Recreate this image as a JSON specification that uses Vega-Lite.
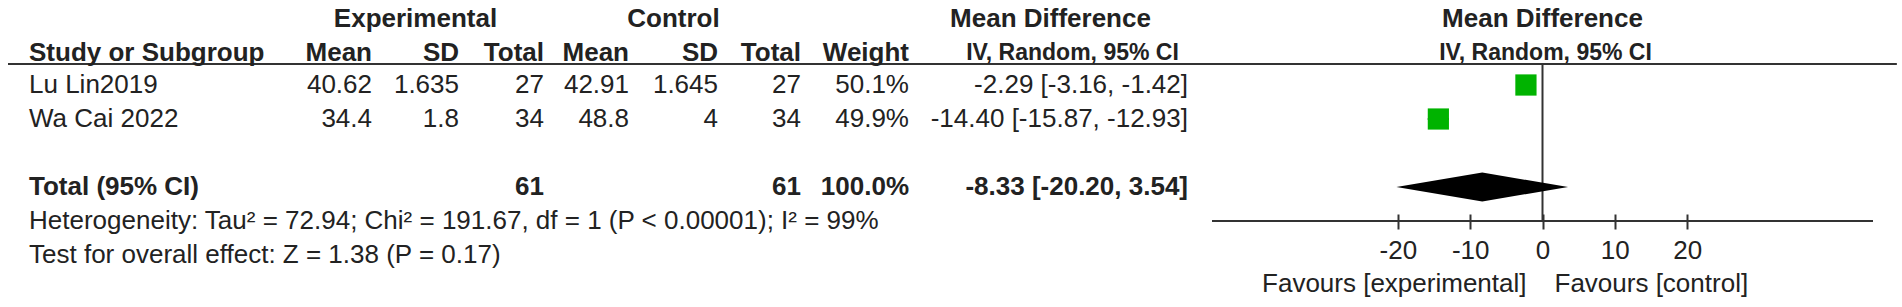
{
 "$schema": "https://vega.github.io/schema/vega-lite/v6.json",
 "padding": {"left": 7, "top": 0, "right": 0, "bottom": 0},
 "background": "white",
 "spacing": 0,
 "bounds": "flush",
 "datasets": {
  "headers": [
   {"row": "h1", "col": "e_sd", "text": "Experimental"},
   {"row": "h1", "col": "c_sd", "text": "Control"},
   {"row": "h1", "col": "ci", "text": "Mean Difference"},
   {"row": "h1", "col": "forest", "text": "Mean Difference"},
   {"row": "h2", "col": "study", "text": "Study or Subgroup"},
   {"row": "h2", "col": "e_mean", "text": "Mean"},
   {"row": "h2", "col": "e_sd", "text": "SD"},
   {"row": "h2", "col": "e_n", "text": "Total"},
   {"row": "h2", "col": "c_mean", "text": "Mean"},
   {"row": "h2", "col": "c_sd", "text": "SD"},
   {"row": "h2", "col": "c_n", "text": "Total"},
   {"row": "h2", "col": "weight", "text": "Weight"},
   {"row": "h2", "col": "ci", "text": "IV, Random, 95% CI"},
   {"row": "h2", "col": "forest", "text": "IV, Random, 95% CI"}
  ],
  "studies": [
   {"study": "Lu Lin2019", "e_mean": 40.62, "e_sd": 1.635, "e_n": 27, "c_mean": 42.91, "c_sd": 1.645, "c_n": 27, "weight": 50.1, "md": -2.29, "lo": -3.16, "hi": -1.42},
   {"study": "Wa Cai 2022", "e_mean": 34.4, "e_sd": 1.8, "e_n": 34, "c_mean": 48.8, "c_sd": 4, "c_n": 34, "weight": 49.9, "md": -14.40, "lo": -15.87, "hi": -12.93}
  ],
  "total": [
   {"label": "Total (95% CI)", "e_n": 61, "c_n": 61, "weight": 100.0, "md": -8.33, "lo": -20.20, "hi": 3.54}
  ],
  "notes": [
   {"row": "het", "text": "Heterogeneity: Tau² = 72.94; Chi² = 191.67, df = 1 (P < 0.00001); I² = 99%"},
   {"row": "test", "text": "Test for overall effect: Z = 1.38 (P = 0.17)"}
  ],
  "favours": [
   {"side": "experimental", "text": "Favours [experimental]"},
   {"side": "control", "text": "Favours [control]"}
  ]
 },
 "hconcat": [
  {
   "width": 273, "height": 272,
   "layer": [
    {"data": {"name": "headers"}, "transform": [{"filter": "datum.col == 'study' && datum.row == 'h2'"}],
     "mark": {"type": "rule", "stroke": "#333", "strokeWidth": 2},
     "encoding": {"y": {"datum": "h2", "bandPosition": 0.882, "type": "nominal", "scale": {"type": "band", "domain": ["h1","h2","Lu Lin2019","Wa Cai 2022","blank","Total (95% CI)","het","test"], "paddingInner": 0, "paddingOuter": 0}, "axis": null}}},
    {"data": {"name": "headers"}, "transform": [{"filter": "datum.col == 'study' && datum.row == 'h2'"}],
     "mark": {"type": "text", "align": "left", "fontWeight": "bold", "dx": 21, "dy": 2},
     "encoding": {"x": {"value": 0}, "y": {"field": "row", "type": "nominal", "axis": null}, "text": {"field": "text"}}},
    {"data": {"name": "studies"},
     "mark": {"type": "text", "align": "left", "dx": 21},
     "encoding": {"x": {"value": 0}, "y": {"field": "study", "type": "nominal", "axis": null}, "text": {"field": "study"}}},
    {"data": {"name": "total"},
     "mark": {"type": "text", "align": "left", "fontWeight": "bold", "dx": 21},
     "encoding": {"x": {"value": 0}, "y": {"field": "label", "type": "nominal", "axis": null}, "text": {"field": "label"}}},
    {"data": {"name": "notes"},
     "mark": {"type": "text", "align": "left", "dx": 21},
     "encoding": {"x": {"value": 0}, "y": {"field": "row", "type": "nominal", "axis": null}, "text": {"field": "text"}}}
   ]
  },
  {
   "width": 91, "height": 272,
   "layer": [
    {"data": {"name": "headers"}, "transform": [{"filter": "datum.col == 'e_mean' && datum.row == 'h2'"}],
     "mark": {"type": "rule", "stroke": "#333", "strokeWidth": 2},
     "encoding": {"y": {"datum": "h2", "bandPosition": 0.882, "type": "nominal", "scale": {"type": "band", "domain": ["h1","h2","Lu Lin2019","Wa Cai 2022","blank","Total (95% CI)","het","test"], "paddingInner": 0, "paddingOuter": 0}, "axis": null}}},
    {"data": {"name": "headers"}, "transform": [{"filter": "datum.col == 'e_mean' && datum.row == 'h2'"}],
     "mark": {"type": "text", "align": "right", "fontWeight": "bold", "dy": 2},
     "encoding": {"x": {"value": "width"}, "y": {"field": "row", "type": "nominal", "axis": null}, "text": {"field": "text"}}},
    {"data": {"name": "studies"},
     "mark": {"type": "text", "align": "right"},
     "encoding": {"x": {"value": "width"}, "y": {"field": "study", "type": "nominal", "axis": null}, "text": {"field": "e_mean", "type": "nominal"}}}
   ]
  },
  {
   "width": 87, "height": 272,
   "layer": [
    {"data": {"name": "headers"}, "transform": [{"filter": "datum.col == 'e_sd' && datum.row == 'h2'"}],
     "mark": {"type": "rule", "stroke": "#333", "strokeWidth": 2},
     "encoding": {"y": {"datum": "h2", "bandPosition": 0.882, "type": "nominal", "scale": {"type": "band", "domain": ["h1","h2","Lu Lin2019","Wa Cai 2022","blank","Total (95% CI)","het","test"], "paddingInner": 0, "paddingOuter": 0}, "axis": null}}},
    {"data": {"name": "headers"}, "transform": [{"filter": "datum.col == 'e_sd' && datum.row == 'h1'"}],
     "mark": {"type": "text", "align": "center", "fontWeight": "bold", "dy": 2},
     "encoding": {"y": {"field": "row", "type": "nominal", "axis": null}, "text": {"field": "text"}}},
    {"data": {"name": "headers"}, "transform": [{"filter": "datum.col == 'e_sd' && datum.row == 'h2'"}],
     "mark": {"type": "text", "align": "right", "fontWeight": "bold", "dy": 2},
     "encoding": {"x": {"value": "width"}, "y": {"field": "row", "type": "nominal", "axis": null}, "text": {"field": "text"}}},
    {"data": {"name": "studies"},
     "mark": {"type": "text", "align": "right"},
     "encoding": {"x": {"value": "width"}, "y": {"field": "study", "type": "nominal", "axis": null}, "text": {"field": "e_sd", "type": "nominal"}}}
   ]
  },
  {
   "width": 85, "height": 272,
   "layer": [
    {"data": {"name": "headers"}, "transform": [{"filter": "datum.col == 'e_n' && datum.row == 'h2'"}],
     "mark": {"type": "rule", "stroke": "#333", "strokeWidth": 2},
     "encoding": {"y": {"datum": "h2", "bandPosition": 0.882, "type": "nominal", "scale": {"type": "band", "domain": ["h1","h2","Lu Lin2019","Wa Cai 2022","blank","Total (95% CI)","het","test"], "paddingInner": 0, "paddingOuter": 0}, "axis": null}}},
    {"data": {"name": "headers"}, "transform": [{"filter": "datum.col == 'e_n' && datum.row == 'h2'"}],
     "mark": {"type": "text", "align": "right", "fontWeight": "bold", "dy": 2},
     "encoding": {"x": {"value": "width"}, "y": {"field": "row", "type": "nominal", "axis": null}, "text": {"field": "text"}}},
    {"data": {"name": "studies"},
     "mark": {"type": "text", "align": "right"},
     "encoding": {"x": {"value": "width"}, "y": {"field": "study", "type": "nominal", "axis": null}, "text": {"field": "e_n", "type": "nominal"}}},
    {"data": {"name": "total"},
     "mark": {"type": "text", "align": "right", "fontWeight": "bold"},
     "encoding": {"x": {"value": "width"}, "y": {"field": "label", "type": "nominal", "axis": null}, "text": {"field": "e_n", "type": "nominal"}}}
   ]
  },
  {
   "width": 85, "height": 272,
   "layer": [
    {"data": {"name": "headers"}, "transform": [{"filter": "datum.col == 'c_mean' && datum.row == 'h2'"}],
     "mark": {"type": "rule", "stroke": "#333", "strokeWidth": 2},
     "encoding": {"y": {"datum": "h2", "bandPosition": 0.882, "type": "nominal", "scale": {"type": "band", "domain": ["h1","h2","Lu Lin2019","Wa Cai 2022","blank","Total (95% CI)","het","test"], "paddingInner": 0, "paddingOuter": 0}, "axis": null}}},
    {"data": {"name": "headers"}, "transform": [{"filter": "datum.col == 'c_mean' && datum.row == 'h2'"}],
     "mark": {"type": "text", "align": "right", "fontWeight": "bold", "dy": 2},
     "encoding": {"x": {"value": "width"}, "y": {"field": "row", "type": "nominal", "axis": null}, "text": {"field": "text"}}},
    {"data": {"name": "studies"},
     "mark": {"type": "text", "align": "right"},
     "encoding": {"x": {"value": "width"}, "y": {"field": "study", "type": "nominal", "axis": null}, "text": {"field": "c_mean", "type": "nominal"}}}
   ]
  },
  {
   "width": 89, "height": 272,
   "layer": [
    {"data": {"name": "headers"}, "transform": [{"filter": "datum.col == 'c_sd' && datum.row == 'h2'"}],
     "mark": {"type": "rule", "stroke": "#333", "strokeWidth": 2},
     "encoding": {"y": {"datum": "h2", "bandPosition": 0.882, "type": "nominal", "scale": {"type": "band", "domain": ["h1","h2","Lu Lin2019","Wa Cai 2022","blank","Total (95% CI)","het","test"], "paddingInner": 0, "paddingOuter": 0}, "axis": null}}},
    {"data": {"name": "headers"}, "transform": [{"filter": "datum.col == 'c_sd' && datum.row == 'h1'"}],
     "mark": {"type": "text", "align": "center", "fontWeight": "bold", "dy": 2},
     "encoding": {"y": {"field": "row", "type": "nominal", "axis": null}, "text": {"field": "text"}}},
    {"data": {"name": "headers"}, "transform": [{"filter": "datum.col == 'c_sd' && datum.row == 'h2'"}],
     "mark": {"type": "text", "align": "right", "fontWeight": "bold", "dy": 2},
     "encoding": {"x": {"value": "width"}, "y": {"field": "row", "type": "nominal", "axis": null}, "text": {"field": "text"}}},
    {"data": {"name": "studies"},
     "mark": {"type": "text", "align": "right"},
     "encoding": {"x": {"value": "width"}, "y": {"field": "study", "type": "nominal", "axis": null}, "text": {"field": "c_sd", "type": "nominal"}}}
   ]
  },
  {
   "width": 83, "height": 272,
   "layer": [
    {"data": {"name": "headers"}, "transform": [{"filter": "datum.col == 'c_n' && datum.row == 'h2'"}],
     "mark": {"type": "rule", "stroke": "#333", "strokeWidth": 2},
     "encoding": {"y": {"datum": "h2", "bandPosition": 0.882, "type": "nominal", "scale": {"type": "band", "domain": ["h1","h2","Lu Lin2019","Wa Cai 2022","blank","Total (95% CI)","het","test"], "paddingInner": 0, "paddingOuter": 0}, "axis": null}}},
    {"data": {"name": "headers"}, "transform": [{"filter": "datum.col == 'c_n' && datum.row == 'h2'"}],
     "mark": {"type": "text", "align": "right", "fontWeight": "bold", "dy": 2},
     "encoding": {"x": {"value": "width"}, "y": {"field": "row", "type": "nominal", "axis": null}, "text": {"field": "text"}}},
    {"data": {"name": "studies"},
     "mark": {"type": "text", "align": "right"},
     "encoding": {"x": {"value": "width"}, "y": {"field": "study", "type": "nominal", "axis": null}, "text": {"field": "c_n", "type": "nominal"}}},
    {"data": {"name": "total"},
     "mark": {"type": "text", "align": "right", "fontWeight": "bold"},
     "encoding": {"x": {"value": "width"}, "y": {"field": "label", "type": "nominal", "axis": null}, "text": {"field": "c_n", "type": "nominal"}}}
   ]
  },
  {
   "width": 108, "height": 272,
   "layer": [
    {"data": {"name": "headers"}, "transform": [{"filter": "datum.col == 'weight' && datum.row == 'h2'"}],
     "mark": {"type": "rule", "stroke": "#333", "strokeWidth": 2},
     "encoding": {"y": {"datum": "h2", "bandPosition": 0.882, "type": "nominal", "scale": {"type": "band", "domain": ["h1","h2","Lu Lin2019","Wa Cai 2022","blank","Total (95% CI)","het","test"], "paddingInner": 0, "paddingOuter": 0}, "axis": null}}},
    {"data": {"name": "headers"}, "transform": [{"filter": "datum.col == 'weight' && datum.row == 'h2'"}],
     "mark": {"type": "text", "align": "right", "fontWeight": "bold", "dy": 2},
     "encoding": {"x": {"value": "width"}, "y": {"field": "row", "type": "nominal", "axis": null}, "text": {"field": "text"}}},
    {"data": {"name": "studies"},
     "transform": [{"calculate": "format(datum.weight, '.1f') + '%'", "as": "wl"}],
     "mark": {"type": "text", "align": "right"},
     "encoding": {"x": {"value": "width"}, "y": {"field": "study", "type": "nominal", "axis": null}, "text": {"field": "wl"}}},
    {"data": {"name": "total"},
     "transform": [{"calculate": "format(datum.weight, '.1f') + '%'", "as": "wl"}],
     "mark": {"type": "text", "align": "right", "fontWeight": "bold"},
     "encoding": {"x": {"value": "width"}, "y": {"field": "label", "type": "nominal", "axis": null}, "text": {"field": "wl"}}}
   ]
  },
  {
   "width": 303, "height": 272,
   "layer": [
    {"data": {"name": "headers"}, "transform": [{"filter": "datum.col == 'ci' && datum.row == 'h2'"}],
     "mark": {"type": "rule", "stroke": "#333", "strokeWidth": 2},
     "encoding": {"y": {"datum": "h2", "bandPosition": 0.882, "type": "nominal", "scale": {"type": "band", "domain": ["h1","h2","Lu Lin2019","Wa Cai 2022","blank","Total (95% CI)","het","test"], "paddingInner": 0, "paddingOuter": 0}, "axis": null}}},
    {"data": {"name": "headers"}, "transform": [{"filter": "datum.col == 'ci' && datum.row == 'h1'"}],
     "mark": {"type": "text", "align": "center", "fontWeight": "bold", "dx": -10, "dy": 2},
     "encoding": {"y": {"field": "row", "type": "nominal", "axis": null}, "text": {"field": "text"}}},
    {"data": {"name": "headers"}, "transform": [{"filter": "datum.col == 'ci' && datum.row == 'h2'"}],
     "mark": {"type": "text", "align": "center", "fontWeight": "bold", "fontSize": 23, "dx": 12, "dy": 2},
     "encoding": {"y": {"field": "row", "type": "nominal", "axis": null}, "text": {"field": "text"}}},
    {"data": {"name": "studies"},
     "transform": [{"calculate": "replace(format(datum.md, '.2f'), '−', '-') + ' [' + replace(format(datum.lo, '.2f'), '−', '-') + ', ' + replace(format(datum.hi, '.2f'), '−', '-') + ']'", "as": "cil"}],
     "mark": {"type": "text", "align": "right", "dx": -24},
     "encoding": {"x": {"value": "width"}, "y": {"field": "study", "type": "nominal", "axis": null}, "text": {"field": "cil"}}},
    {"data": {"name": "total"},
     "transform": [{"calculate": "replace(format(datum.md, '.2f'), '−', '-') + ' [' + replace(format(datum.lo, '.2f'), '−', '-') + ', ' + replace(format(datum.hi, '.2f'), '−', '-') + ']'", "as": "cil"}],
     "mark": {"type": "text", "align": "right", "fontWeight": "bold", "dx": -24},
     "encoding": {"x": {"value": "width"}, "y": {"field": "label", "type": "nominal", "axis": null}, "text": {"field": "cil"}}}
   ]
  },
  {
   "spacing": 0,
   "bounds": "flush",
   "vconcat": [
    {
     "width": 661, "height": 221,
     "layer": [
      {"data": {"name": "headers"}, "transform": [{"filter": "datum.col == 'forest' && datum.row == 'h1'"}],
       "mark": {"type": "text", "align": "center", "fontWeight": "bold", "dy": 2},
       "encoding": {"y": {"field": "row", "type": "nominal", "scale": {"type": "band", "domain": ["h1","h2","Lu Lin2019","Wa Cai 2022","blank","Total (95% CI)"], "paddingInner": 0, "paddingOuter": 0.25, "align": 0}, "axis": null}, "text": {"field": "text"}}},
      {"data": {"name": "headers"}, "transform": [{"filter": "datum.col == 'forest' && datum.row == 'h2'"}],
       "mark": {"type": "text", "align": "center", "fontWeight": "bold", "fontSize": 23, "dx": 3, "dy": 2},
       "encoding": {"y": {"field": "row", "type": "nominal", "axis": null}, "text": {"field": "text"}}},
      {"data": {"name": "headers"}, "transform": [{"filter": "datum.col == 'forest' && datum.row == 'h2'"}],
       "mark": {"type": "rule", "stroke": "#333", "strokeWidth": 2},
       "encoding": {
        "x": {"datum": -45.7, "type": "quantitative", "scale": {"domain": [-45.7, 45.7], "nice": false, "zero": false},
              "axis": {"values": [-20, -10, 0, 10, 20], "title": null, "grid": false, "domain": false, "offset": -7, "tickColor": "#333", "tickWidth": 2, "tickSize": 15, "labelFontSize": 26, "labelFont": "Liberation Sans", "labelColor": "#222", "labelPadding": 8, "labelFlush": false, "labelOverlap": false, "labelBound": false, "labelExpr": "'' + datum.value"}},
        "x2": {"datum": 49},
        "y": {"datum": "h2", "bandPosition": 0.882, "type": "nominal", "axis": null}}},
      {"data": {"name": "headers"}, "transform": [{"filter": "datum.col == 'forest' && datum.row == 'h2'"}],
       "mark": {"type": "rule", "stroke": "#333", "strokeWidth": 2},
       "encoding": {"y": {"value": "height"}}},
      {"data": {"name": "headers"}, "transform": [{"filter": "datum.col == 'forest' && datum.row == 'h2'"}],
       "mark": {"type": "rule", "stroke": "#333", "strokeWidth": 2},
       "encoding": {
        "x": {"datum": 0, "type": "quantitative",
              "axis": {"values": [-20, -10, 0, 10, 20], "title": null, "grid": false, "domain": false, "offset": -7, "tickColor": "#333", "tickWidth": 2, "tickSize": 15, "labelFontSize": 26, "labelFont": "Liberation Sans", "labelColor": "#222", "labelPadding": 8, "labelFlush": false, "labelOverlap": false, "labelBound": false, "labelExpr": "'' + datum.value"}},
        "y": {"datum": "h2", "bandPosition": 0.882, "type": "nominal", "axis": null},
        "y2": {"value": "height"}}},
      {"data": {"name": "studies"},
       "mark": {"type": "rule", "stroke": "#000", "strokeWidth": 1.5},
       "encoding": {
        "x": {"field": "lo", "type": "quantitative",
              "axis": {"values": [-20, -10, 0, 10, 20], "title": null, "grid": false, "domain": false, "offset": -7, "tickColor": "#333", "tickWidth": 2, "tickSize": 15, "labelFontSize": 26, "labelFont": "Liberation Sans", "labelColor": "#222", "labelPadding": 8, "labelFlush": false, "labelOverlap": false, "labelBound": false, "labelExpr": "'' + datum.value"}},
        "x2": {"field": "hi"},
        "y": {"field": "study", "type": "nominal", "axis": null}}},
      {"data": {"name": "studies"},
       "mark": {"type": "point", "shape": "square", "filled": true, "color": "#00b300", "opacity": 1},
       "encoding": {
        "x": {"field": "md", "type": "quantitative",
              "axis": {"values": [-20, -10, 0, 10, 20], "title": null, "grid": false, "domain": false, "offset": -7, "tickColor": "#333", "tickWidth": 2, "tickSize": 15, "labelFontSize": 26, "labelFont": "Liberation Sans", "labelColor": "#222", "labelPadding": 8, "labelFlush": false, "labelOverlap": false, "labelBound": false, "labelExpr": "'' + datum.value"}},
        "y": {"field": "study", "type": "nominal", "axis": null},
        "size": {"field": "weight", "type": "quantitative", "scale": {"domain": [0, 100], "range": [0, 900]}, "legend": null}}},
      {"data": {"name": "total"},
       "mark": {"type": "point", "shape": "M-1,0L0,-0.169L1,0L0,0.169Z", "size": 29480, "filled": true, "color": "#000", "opacity": 1},
       "encoding": {
        "x": {"field": "md", "type": "quantitative",
              "axis": {"values": [-20, -10, 0, 10, 20], "title": null, "grid": false, "domain": false, "offset": -7, "tickColor": "#333", "tickWidth": 2, "tickSize": 15, "labelFontSize": 26, "labelFont": "Liberation Sans", "labelColor": "#222", "labelPadding": 8, "labelFlush": false, "labelOverlap": false, "labelBound": false, "labelExpr": "'' + datum.value"}},
        "y": {"field": "label", "type": "nominal", "axis": null}}}
     ]
    },
    {
     "width": 661, "height": 80,
     "data": {"name": "favours"},
     "layer": [
      {"transform": [{"filter": "datum.side == 'experimental'"}],
       "mark": {"type": "text", "align": "right", "dx": -16, "dy": 23},
       "encoding": {"x": {"datum": 0, "type": "quantitative", "scale": {"domain": [-45.7, 45.7], "nice": false, "zero": false}, "axis": null}, "text": {"field": "text"}}},
      {"transform": [{"filter": "datum.side == 'control'"}],
       "mark": {"type": "text", "align": "left", "dx": 12, "dy": 23},
       "encoding": {"x": {"datum": 0, "type": "quantitative", "axis": null}, "text": {"field": "text"}}}
     ]
    }
   ]
  }
 ],
 "config": {
  "view": {"stroke": null},
  "text": {"font": "Liberation Sans", "fontSize": 26, "color": "#222"}
 }
}
